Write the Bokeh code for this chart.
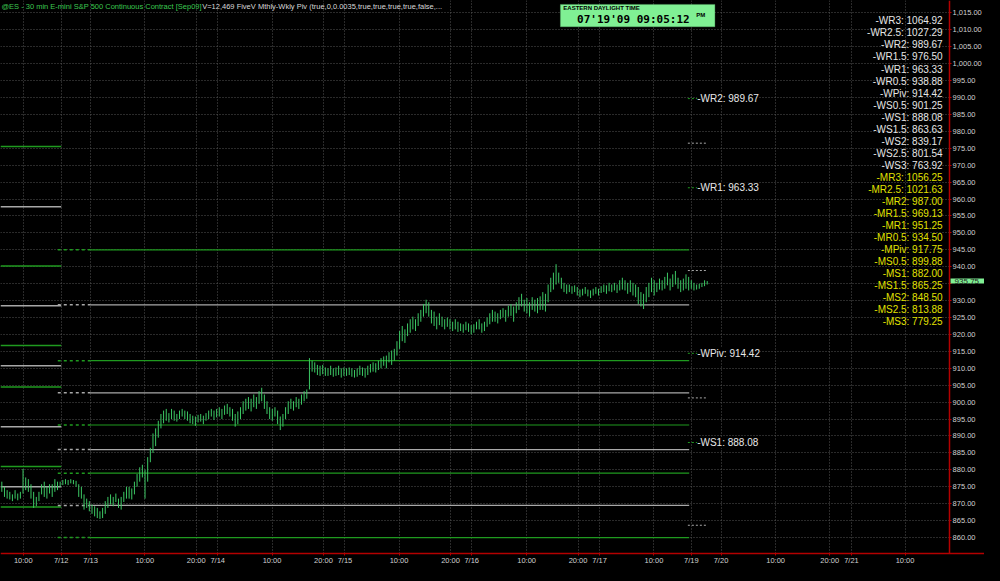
from bokeh.plotting import figure
from bokeh.models import (FixedTicker, SingleIntervalTicker, NumeralTickFormatter,
                          Label, ColumnDataSource, BoxAnnotation)
from bokeh.embed import file_html
from bokeh.resources import INLINE

# ---------------- data ----------------
# 30-minute bars (slot index = bar number on the compressed time axis)
bar_high = [
    876.50, 875.00, 874.00, 873.50, 872.75, 874.00, 873.00, 873.50, 880.25, 877.75,
    877.25, 875.75, 873.50, 872.00, 873.50, 875.75, 876.50, 875.00, 875.75, 875.75,
    877.25, 876.50,
    876.50, 877.00, 877.25, 877.00, 877.25, 877.00, 876.75, 875.75, 875.00, 872.75,
    871.50, 870.75,
    869.75, 869.25, 868.75, 867.75, 868.75, 870.75, 872.00, 872.75, 872.00, 873.00,
    871.50, 872.00, 873.50, 875.00, 875.00, 874.50, 876.50, 878.75, 880.75, 881.50,
    880.00, 883.75, 886.50, 890.75, 892.25, 894.50, 896.50, 897.50, 898.00, 896.75,
    898.00, 897.50, 896.50, 897.50, 898.00, 897.50, 897.25, 896.50, 896.00, 895.75,
    896.25, 896.50, 896.00, 896.75, 897.50, 898.00, 897.50, 898.00,
    898.50, 898.00, 899.00, 899.50, 898.50, 898.00, 896.50, 897.25, 898.50, 900.25,
    901.00, 901.50, 901.00, 902.25, 901.50, 903.25, 904.25, 902.25, 900.25, 898.50,
    898.00, 898.50, 897.50, 895.75, 896.50, 898.50, 900.25, 901.00, 900.25, 901.50,
    901.00, 902.25, 903.25, 903.75, 913.00, 912.25, 911.75, 911.00, 910.75, 911.00,
    910.25, 910.00, 910.75, 910.00, 910.25, 910.75, 910.00, 910.25,
    910.00, 910.25, 910.00, 909.50, 910.00, 910.75, 910.25, 910.00, 910.75, 911.25,
    911.75, 911.50, 912.25, 913.00, 913.50, 913.75, 914.75, 915.25, 915.75, 918.00,
    921.00, 922.50, 921.50, 923.25, 924.50, 925.25, 924.50, 926.25, 927.25, 929.00,
    930.25, 929.50, 927.25, 926.75, 925.25, 926.25, 925.25, 924.50, 925.00, 924.50,
    923.75, 924.50, 923.75, 923.25, 923.00, 923.75, 923.25, 922.75,
    923.00, 923.75, 924.50, 923.25, 923.75, 925.00, 926.25, 927.25, 926.75, 926.25,
    927.25, 927.75, 927.25, 928.50, 929.00, 928.25, 929.50, 931.00, 932.00, 930.25,
    930.75, 929.50, 931.00, 930.25, 930.75, 931.25, 932.50, 932.00, 934.75, 936.75,
    938.25, 940.75, 938.25, 936.75, 935.25, 934.75, 934.75, 934.25, 934.50, 934.00,
    933.25, 933.50, 934.00, 933.25, 933.00, 933.50, 934.00, 933.50,
    934.25, 934.75, 934.50, 935.25, 934.75, 935.25, 934.75, 936.00, 936.75, 936.00,
    935.25, 936.00, 935.25, 934.75, 934.00, 932.50, 932.00, 934.00, 935.25, 936.75,
    936.00, 935.25, 936.50, 936.00, 937.00, 938.25, 936.50, 937.75, 938.75, 936.75,
    936.00, 936.50, 937.75, 937.00,
    936.00, 935.25, 934.75, 935.00, 935.25, 936.00, 935.75,
]
bar_low = [
    873.50, 872.00, 871.50, 871.25, 870.75, 871.50, 871.00, 871.50, 873.00, 874.00,
    873.50, 871.50, 868.75, 869.25, 870.75, 872.75, 872.00, 871.50, 873.00, 872.00,
    873.50, 874.00,
    875.00, 875.50, 875.75, 875.50, 876.00, 875.75, 875.00, 872.00, 871.50, 868.25,
    868.75, 867.75,
    867.00, 866.25, 865.75, 865.50, 865.75, 867.00, 868.75, 869.75, 869.25, 870.50,
    868.75, 868.25, 870.50, 871.50, 871.50, 871.25, 872.75, 875.00, 876.50, 877.75,
    871.50, 876.50, 882.25, 885.00, 887.00, 889.50, 892.25, 893.75, 894.50, 894.00,
    895.00, 894.50, 894.25, 895.00, 895.75, 895.00, 894.50, 893.75, 893.50, 893.00,
    894.00, 894.25, 893.50, 894.50, 895.00, 895.75, 894.75, 895.50,
    895.75, 895.00, 896.25, 896.50, 895.75, 894.50, 892.75, 893.50, 895.00, 896.50,
    897.50, 898.00, 897.25, 898.50, 898.00, 899.50, 900.25, 898.00, 896.50, 895.00,
    894.50, 895.75, 893.50, 891.75, 892.75, 895.00, 896.50, 898.00, 897.50, 898.50,
    898.00, 899.25, 900.25, 901.00, 903.75, 909.00, 908.75, 908.00, 907.75, 908.25,
    907.75, 907.75, 908.00, 907.50, 907.75, 908.00, 907.25, 907.75,
    907.75, 908.00, 907.50, 907.25, 907.50, 908.00, 907.75, 907.25, 908.00, 908.75,
    909.00, 908.75, 909.50, 910.00, 910.75, 910.00, 911.75, 911.00, 912.25, 913.75,
    915.75, 918.00, 917.50, 919.50, 920.50, 921.50, 921.00, 922.50, 923.75, 925.25,
    926.25, 925.25, 923.25, 922.50, 921.50, 922.75, 922.25, 921.50, 922.25, 921.50,
    921.00, 921.50, 920.75, 921.00, 920.50, 921.25, 920.75, 920.00,
    920.50, 921.50, 921.50, 920.50, 921.00, 922.25, 923.00, 923.75, 923.75, 923.25,
    924.50, 925.00, 923.75, 925.25, 925.50, 923.75, 926.25, 927.25, 928.25, 926.75,
    926.25, 925.25, 927.25, 926.75, 926.25, 927.25, 927.25, 926.75, 929.50, 932.50,
    933.25, 934.75, 935.25, 933.50, 932.50, 932.00, 932.50, 932.00, 932.50, 931.50,
    931.00, 931.50, 932.00, 931.25, 930.75, 931.50, 932.00, 931.50,
    932.25, 932.50, 932.00, 932.75, 932.50, 933.00, 932.25, 933.00, 933.25, 933.00,
    932.00, 932.50, 931.50, 931.00, 929.00, 928.25, 927.50, 929.50, 931.00, 932.50,
    931.50, 932.50, 933.25, 933.00, 933.50, 934.50, 933.00, 934.00, 934.75, 933.50,
    932.50, 933.00, 933.50, 933.00,
    933.50, 933.00, 933.25, 933.50, 934.00, 934.25, 934.75,
]
last_price = 935.75
hidden_price_tick = 935   # price-axis label covered by the last-price marker

# time-axis ticks (bar-slot positions) and their labels
tick_slots = [8.6, 22.9, 34.0, 54.4, 73.8, 81.9, 102.4, 121.8, 129.9, 150.3, 169.7,
              177.7, 198.4, 217.8, 225.9, 246.4, 260.5, 271.7, 292.3, 312.7, 320.9, 341.1]
tick_labels = ["10:00", "7/12", "7/13", "10:00", "20:00", "7/14", "10:00", "20:00", "7/15",
               "10:00", "20:00", "7/16", "10:00", "20:00", "7/17", "10:00", "7/19", "7/20",
               "10:00", "20:00", "7/21", "10:00"]

# session boundaries (bar slots)
prev_week_end = 22.9
cur_week_open = 21.6
cur_week_monday = 34.0
cur_week_end = 259.7
next_week_open = 259.2
next_week_now = 266.0

# weekly pivot levels drawn on the chart
prev_week_levels = [975.50, 957.75, 940.25, 928.50, 916.75, 910.75, 904.50, 892.75, 881.00, 875.00, 869.00]
prev_week_kind = ["G", "W", "G", "W", "G", "W", "G", "W", "G", "W", "G"]
cur_week_levels = [945.00, 928.75, 912.25, 902.75, 893.25, 886.00, 879.00, 869.50, 860.00]
cur_week_kind = ["G", "W", "G", "W", "G", "W", "G", "W", "G"]
next_week_names = ["WR2", "WR1.5", "WR1", "WR0.5", "WPiv", "WS0.5", "WS1", "WS1.5"]
next_week_levels = [989.67, 976.50, 963.33, 938.88, 914.42, 901.25, 888.08, 863.63]
next_week_kind = ["G", "W", "G", "W", "G", "W", "G", "W"]

# pivot table on the right
weekly_names = ["WR3", "WR2.5", "WR2", "WR1.5", "WR1", "WR0.5", "WPiv", "WS0.5", "WS1",
                "WS1.5", "WS2", "WS2.5", "WS3"]
weekly_vals = [1064.92, 1027.29, 989.67, 976.50, 963.33, 938.88, 914.42, 901.25, 888.08,
               863.63, 839.17, 801.54, 763.92]
monthly_names = ["MR3", "MR2.5", "MR2", "MR1.5", "MR1", "MR0.5", "MPiv", "MS0.5", "MS1",
                 "MS1.5", "MS2", "MS2.5", "MS3"]
monthly_vals = [1056.25, 1021.63, 987.00, 969.13, 951.25, 934.50, 917.75, 899.88, 882.00,
                865.25, 848.50, 813.88, 779.25]

title_green = "@ES - 30 min  E-mini S&P 500 Continuous Contract [Sep09]"
title_white = "V=12,469  FiveV Mthly-Wkly Piv (true,0,0.0035,true,true,true,true,false,..."
clock_caption = "EASTERN DAYLIGHT TIME"
clock_text = "07'19'09  09:05:12"
clock_ampm = "PM"

# ---------------- styling ----------------
BG = "#000000"
GREEN_LINE = "#1f9a1f"
GRAY_LINE = "#a8a8a8"
BAR = "#3cc864"
RED = "#b40000"
AX_TXT = "#d0d0d0"
FONT = "Liberation Sans"

# visible window (whole figure is the plot frame; axes drawn at fixed locations)
X0, X1 = 0.0, 371.06
Y0, Y1 = 851.74, 1018.65


def sx(px):
    """layout helper: reference-pixel x to slot units"""
    return X0 + px * (X1 - X0) / 1000.0


def sy(px):
    """layout helper: reference-pixel y to price units"""
    return Y1 - px * (Y1 - Y0) / 581.0


AXIS_X = sx(964.5)   # location of the price axis
AXIS_Y = sy(568.5)   # location of the time axis

p = figure(width=984, height=565, x_range=(X0, X1), y_range=(Y0, Y1),
           y_axis_location="right", output_backend="svg", toolbar_location=None,
           background_fill_color=BG, border_fill_color=BG, min_border=0,
           outline_line_color=None)

# axes
xa = p.xaxis[0]
xa.fixed_location = AXIS_Y
xa.ticker = FixedTicker(ticks=tick_slots)
xa.major_label_overrides = {t: l for t, l in zip(tick_slots, tick_labels)}
xa.axis_line_color = RED
xa.axis_line_width = 1.5
xa.major_tick_line_color = RED
xa.major_tick_in = 0
xa.major_tick_out = 2
xa.minor_tick_line_color = None
xa.major_label_text_color = AX_TXT
xa.major_label_text_font = FONT
xa.major_label_text_font_size = "7.5px"
xa.major_label_standoff = 1

ya = p.yaxis[0]
ya.fixed_location = AXIS_X
ya.bounds = (AXIS_Y, Y1 + 5)
ya.ticker = SingleIntervalTicker(interval=5, num_minor_ticks=0)
ya.formatter = NumeralTickFormatter(format="0,0.00")
ya.major_label_overrides = {hidden_price_tick: ""}
ya.axis_line_color = RED
ya.axis_line_width = 1.5
ya.major_tick_line_color = RED
ya.major_tick_in = 0
ya.major_tick_out = 2
ya.minor_tick_line_color = None
ya.major_label_text_color = AX_TXT
ya.major_label_text_font = FONT
ya.major_label_text_font_size = "7.5px"
ya.major_label_standoff = 1

for g in (p.xgrid[0], p.ygrid[0]):
    g.grid_line_color = "#555555"
    g.grid_line_dash = "1 2"
    g.grid_line_width = 1

# black masks so the grid stops at the axes
p.add_layout(BoxAnnotation(left=AXIS_X, right=X1 + 10, top=Y1 + 10, bottom=Y0 - 10,
                           fill_color=BG, fill_alpha=1.0, line_color=None, level="underlay"))
p.add_layout(BoxAnnotation(left=X0 - 10, right=X1 + 10, top=AXIS_Y, bottom=Y0 - 10,
                           fill_color=BG, fill_alpha=1.0, line_color=None, level="underlay"))

# pivot lines
col = {"G": GREEN_LINE, "W": GRAY_LINE}
prev_src = ColumnDataSource(dict(
    x0=[X0] * len(prev_week_levels), x1=[prev_week_end] * len(prev_week_levels),
    y=prev_week_levels, c=[col[k] for k in prev_week_kind]))
p.segment(x0="x0", y0="y", x1="x1", y1="y", color="c", line_width=1.5, source=prev_src)

cur_dash = ColumnDataSource(dict(
    x0=[cur_week_open] * len(cur_week_levels), x1=[cur_week_monday] * len(cur_week_levels),
    y=cur_week_levels, c=[col[k] for k in cur_week_kind]))
p.segment(x0="x0", y0="y", x1="x1", y1="y", color="c", line_width=1.5,
          line_dash="3 3", source=cur_dash)
cur_solid = ColumnDataSource(dict(
    x0=[cur_week_monday] * len(cur_week_levels), x1=[cur_week_end] * len(cur_week_levels),
    y=cur_week_levels, c=[col[k] for k in cur_week_kind]))
p.segment(x0="x0", y0="y", x1="x1", y1="y", color="c", line_width=1.2, source=cur_solid)

next_src = ColumnDataSource(dict(
    x0=[next_week_open] * len(next_week_levels), x1=[next_week_now] * len(next_week_levels),
    y=next_week_levels, c=[col[k] for k in next_week_kind]))
p.segment(x0="x0", y0="y", x1="x1", y1="y", color="c", line_width=1,
          line_dash="2 2", source=next_src)

# price bars
slots = [i + 0.5 for i in range(len(bar_high))]
bars = ColumnDataSource(dict(x=slots, hi=bar_high, lo=bar_low))
p.segment(x0="x", y0="lo", x1="x", y1="hi", color=BAR, line_width=1, source=bars)

# labels for next week's main levels
for name, v, k in zip(next_week_names, next_week_levels, next_week_kind):
    if k == "G":
        p.add_layout(Label(x=sx(708), y=v, text=f"-{name}: {v:.2f}", text_color="#e8e8e8",
                           text_font=FONT, text_font_size="10px", text_baseline="middle",
                           background_fill_color=BG))

# pivot table on the right
names = weekly_names + monthly_names
vals = weekly_vals + monthly_vals
colors = ["#e6e6e6"] * len(weekly_names) + ["#e0e000"] * len(monthly_names)
for k, (n, v, c) in enumerate(zip(names, vals, colors)):
    p.add_layout(Label(x=sx(957.5), y=sy(21 + 12.36 * k), text=f"-{n}: {v:.2f}",
                       text_color=c, text_font=FONT, text_font_size="10px",
                       text_align="right", text_baseline="middle"))

# title
p.add_layout(Label(x=sx(1), y=sy(2), text=title_green, text_color="#3cc850",
                   text_font=FONT, text_font_size="7.5px", text_baseline="top"))
p.add_layout(Label(x=sx(205), y=sy(2), text=title_white, text_color="#d8d8d8",
                   text_font=FONT, text_font_size="7.5px", text_baseline="top"))

# clock box
p.add_layout(BoxAnnotation(left=sx(569), right=sx(726), top=sy(4), bottom=sy(27),
                           fill_color="#80f094", fill_alpha=1.0, line_color="#60c070",
                           line_width=1))
p.add_layout(Label(x=sx(572), y=sy(5), text=clock_caption, text_color="#000000",
                   text_font=FONT, text_font_size="6px", text_font_style="bold",
                   text_baseline="top"))
p.add_layout(Label(x=sx(586), y=sy(12.5), text=clock_text, text_color="#000000",
                   text_font="DejaVu Sans Mono", text_font_size="11px",
                   text_font_style="bold", text_baseline="top"))
p.add_layout(Label(x=sx(707), y=sy(12), text=clock_ampm, text_color="#000000",
                   text_font=FONT, text_font_size="6px", text_font_style="bold",
                   text_baseline="top"))

# last price marker on the price axis
p.add_layout(Label(x=AXIS_X, y=last_price, x_offset=1, text=f"{last_price:.2f}",
                   text_color="#202020", text_font=FONT, text_font_size="8px",
                   text_baseline="middle", background_fill_color="#80f094",
                   padding=dict(left=4, right=5, top=0, bottom=0)))

tmpl = "{% block preamble %}<style>html,body{background:#000000;}</style>{% endblock %}"
open("out.html", "w").write(file_html(p, INLINE, title="ES 30 min", template=tmpl))
